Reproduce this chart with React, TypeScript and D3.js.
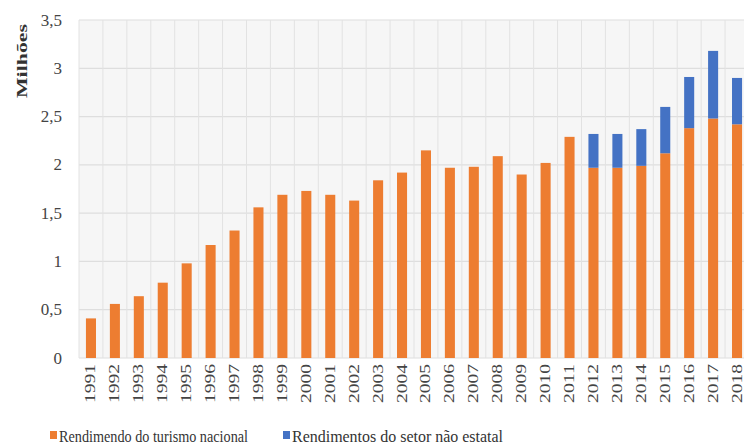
import React from 'react';
import * as d3 from 'd3';

// years on the x axis
const years = [
  '1991', '1992', '1993', '1994', '1995', '1996', '1997', '1998', '1999', '2000',
  '2001', '2002', '2003', '2004', '2005', '2006', '2007', '2008', '2009', '2010',
  '2011', '2012', '2013', '2014', '2015', '2016', '2017', '2018',
];

// Rendimento do turismo nacional (milhões)
const nacional = [
  0.41, 0.56, 0.64, 0.78, 0.98, 1.17, 1.32, 1.56, 1.69, 1.73,
  1.69, 1.63, 1.84, 1.92, 2.15, 1.97, 1.98, 2.09, 1.90, 2.02,
  2.29, 1.97, 1.97, 1.99, 2.12, 2.38, 2.48, 2.42,
];

// Rendimentos do setor não estatal (milhões)
const naoEstatal = [
  0, 0, 0, 0, 0, 0, 0, 0, 0, 0,
  0, 0, 0, 0, 0, 0, 0, 0, 0, 0,
  0, 0.35, 0.35, 0.38, 0.48, 0.53, 0.70, 0.48,
];

const yTicks = [0, 0.5, 1, 1.5, 2, 2.5, 3, 3.5];
const seriesNames = ['Rendimendo do turismo nacional', 'Rendimentos do setor não estatal'];
const colors = ['#ED7D31', '#4472C4'];

const W = 744;
const H = 447;
const font = '"Liberation Serif", "DejaVu Serif", serif';

export default function App() {
  const x = d3.scaleBand().domain(years).range([79, 749]).paddingInner(0.58).paddingOuter(0.29);
  const y = d3.scaleLinear().domain([0, 3.5]).range([358, 20]);

  const rows = years.map((yr, i) => ({ year: yr, a: nacional[i], b: naoEstatal[i] }));
  const stacked = d3.stack<any>().keys(['a', 'b'])(rows);
  const fmt = (v: number) => String(v).replace('.', ',');
  const step = x.step();

  return (
    <svg width={W} height={H} style={{ position: 'absolute', left: 0, top: 0, background: '#fff' }}>
      <rect x={79} y={20} width={670} height={338} fill="#f6f6f6" />
      {/* horizontal grid */}
      {yTicks.map(t => (
        <line key={'h' + t} x1={79} x2={749} y1={y(t)} y2={y(t)} stroke="#dedede" strokeWidth={1.2} />
      ))}
      {/* vertical grid at category boundaries */}
      {years.map((yr, i) => (
        <line key={'v' + yr} x1={79 + i * step} x2={79 + i * step} y1={20} y2={358} stroke="#e2e2e2" strokeWidth={1} />
      ))}

      {stacked.map((s, si) => (
        <g key={si} fill={colors[si]}>
          {s.map((d, i) => (
            d[1] - d[0] > 0 ? (
              <rect key={i} x={x(years[i])} width={x.bandwidth()} y={y(d[1])} height={y(d[0]) - y(d[1])} />
            ) : null
          ))}
        </g>
      ))}

      {/* y tick labels */}
      {yTicks.map(t => (
        <text key={'yt' + t} x={62} y={y(t)} textAnchor="end" dominantBaseline="central"
          fontFamily={font} fontSize={17} fill="#444">{fmt(t)}</text>
      ))}

      {/* y axis title */}
      <text transform="translate(22,61) rotate(-90)" textAnchor="middle" dominantBaseline="central"
        fontFamily={font} fontSize={15} fontWeight="bold" fill="#333" textLength={74} lengthAdjust="spacingAndGlyphs">Milhões</text>

      {/* x tick labels */}
      {years.map(yr => (
        <text key={'xt' + yr} transform={`translate(${x(yr)! + x.bandwidth() / 2},364) rotate(-90)`}
          textAnchor="end" dominantBaseline="central" fontFamily={font} fontSize={14} fill="#444"
          textLength={39} lengthAdjust="spacingAndGlyphs">{yr}</text>
      ))}

      {/* legend */}
      <rect x={50} y={431} width={7} height={8} fill={colors[0]} />
      <text x={59} y={436} dominantBaseline="central" fontFamily={font} fontSize={16} fill="#333"
        textLength={189} lengthAdjust="spacingAndGlyphs">{seriesNames[0]}</text>
      <rect x={283} y={431} width={7} height={8} fill={colors[1]} />
      <text x={292} y={436} dominantBaseline="central" fontFamily={font} fontSize={16} fill="#333"
        textLength={211} lengthAdjust="spacingAndGlyphs">{seriesNames[1]}</text>
    </svg>
  );
}
